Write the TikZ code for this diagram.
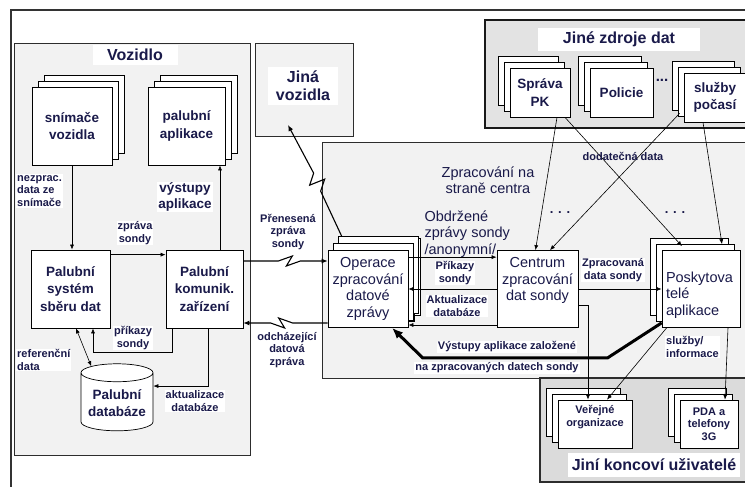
\documentclass[tikz,border=0pt]{standalone}
\usepackage{fontspec}
\setmainfont{Liberation Sans}
\usepackage{tikz}
\usetikzlibrary{positioning}
\usetikzlibrary{shapes,arrows,calc,arrows.meta,shadows}
\definecolor{ink}{HTML}{1A1A4A}

\tikzset{
  area/.style={draw=gray!35!black, line width=1pt, fill=gray!10},
  box/.style={draw, fill=white, line width=0.7pt, align=center, text=ink, inner sep=1pt},
  stack/.style={box, double copy shadow={shadow xshift=6pt, shadow yshift=6pt}},
  stackl/.style={box, double copy shadow={shadow xshift=-6pt, shadow yshift=6pt}},
  bold/.style={font=\fontsize{13.5}{17.5}\selectfont\bfseries},
  reg/.style={font=\fontsize{14.5}{16.5}\selectfont},
  title/.style={fill=white, text=ink, align=center, inner sep=2pt, font=\fontsize{16}{18}\selectfont\bfseries},
  lbl/.style={fill=white, text=ink, align=center, inner sep=1pt, font=\fontsize{11}{12.5}\selectfont\bfseries},
  arr/.style={-{Latex[length=5pt,width=4pt]}, line width=0.6pt},
  arr2/.style={{Latex[length=5pt,width=4pt]}-{Latex[length=5pt,width=4pt]}, line width=0.6pt},
  zap/.style={-{Latex[length=6pt,width=5pt]}, line width=1.1pt},
  thickarr/.style={-{Latex[length=11pt,width=9pt]}, line width=3pt}
}

\begin{document}
\begin{tikzpicture}[x=1pt, y=-1pt]
    \useasboundingbox (0,0) rectangle (745,487);
    % Frames
    \draw [line width=1.2pt, gray!40!black] (750,10) -- (11,10) -- (11,490);
    \node [area, minimum width=236pt, minimum height=411pt] (vozidlo) at (132,249.5) {};
    \node [area, minimum width=98pt, minimum height=92pt] (jina) at (304,90) {};
    \node [area, minimum width=428pt, minimum height=236pt] (strana) at (536,260) {};
    \node [area, fill=gray!22, draw=gray!20!black, line width=1.6pt, minimum width=265pt, minimum height=108pt] (zdroje) at (617.5,74) {};
    \node [area, fill=gray!28, line width=1.5pt, minimum width=210pt, minimum height=104pt] (koncovi) at (645,430) {};

    % Nodes
    \node [stack, bold, minimum width=80pt, minimum height=78pt] (snimace) at (72,126) {snímače\\vozidla};
    \node [stack, bold, minimum width=77pt, minimum height=78pt] (aplikace) at (186.5,126) {palubní\\aplikace};
    \node [box, bold, minimum width=79pt, minimum height=78pt] (sber) at (70.5,289) {Palubní\\systém\\sběru dat};
    \node [box, bold, minimum width=77pt, minimum height=78pt] (komunik) at (204.5,289) {Palubní\\komunik.\\zařízení};
    \node [box, bold, cylinder, shape border rotate=90, aspect=0.3, minimum width=72pt, minimum height=67pt] (databaze) at (117,403) {Palubní\\databáze};

    \node [stack, reg, minimum width=80pt, minimum height=77pt, double copy shadow={shadow xshift=5pt, shadow yshift=7pt}] (operace) at (368,289) {Operace\\zpracování\\datové\\zprávy};
    \node [box, reg, minimum width=81pt, minimum height=77pt, text depth=20pt] (centrum) at (537.5,289) {Centrum\\zpracování\\dat sondy};
    \node [stackl, reg, align=left, text width=70pt, minimum width=78pt, minimum height=77pt, text depth=24pt] (poskytovatele) at (701,289) {Poskytova\\telé\\aplikace};

    \node [stackl, bold, minimum width=60pt, minimum height=49pt] (sprava) at (540,92.5) {Správa\\PK};
    \node [stackl, bold, minimum width=63pt, minimum height=49pt] (policie) at (621.5,92.5) {Policie};
    \node [stackl, bold, minimum width=62pt, minimum height=49pt] (pocasi) at (715,97.5) {služby\\počasí};
    \node [text=ink, font=\fontsize{15}{15}\selectfont\bfseries] (tecky) at (662,80) {...};

    \node [stackl, lbl, fill=white, draw, minimum width=74pt, minimum height=48pt, text depth=16pt] (verejne) at (595,424) {Veřejné\\organizace};
    \node [stackl, lbl, fill=white, draw, minimum width=58pt, minimum height=48pt] (pda) at (709,424) {PDA a\\telefony\\3G};

    % Titles
    \node [title, minimum width=85pt, minimum height=20pt] (tvozidlo) at (135,55) {Vozidlo};
    \node [title, inner xsep=8pt, inner ysep=4pt] (tjina) at (303,86) {Jiná\\vozidla};
    \node [title, minimum width=162pt, minimum height=23pt] (tzdroje) at (619,39.5) {Jiné zdroje dat};
    \node [title, minimum width=172pt, minimum height=24pt] (tkoncovi) at (654,465) {Jiní koncoví uživatelé};
    \node [reg, text=ink, align=center] (tstrana) at (488,180) {Zpracování na\\straně centra};

    % Arrows
    \draw [arr] (snimace.south) -- (snimace.south |- sber.north);
    \node [lbl, align=left, anchor=west] (lnezprac) at (16,191) {nezprac.\\data ze\\snímače};
    \draw [arr] ([xshift=15.5pt]komunik.north) -- ([xshift=15.5pt]komunik.north |- aplikace.south);
    \node [lbl, font=\fontsize{13.5}{16}\selectfont\bfseries] (lvystupy) at (185,197) {výstupy\\aplikace};
    \draw [arr] ([yshift=-5pt]sber.north east) -- ([yshift=-5pt]sber.north east -| komunik.west);
    \node [lbl] (lzprava) at (135,233) {zpráva\\sondy};
    \draw [arr] ([xshift=-32.5pt]komunik.south) -- ++(0,24) -| ([xshift=22.5pt]sber.south);
    \node [lbl] (lprikazy) at (133,338) {příkazy\\sondy};
    \draw [arr2] ([xshift=5.5pt]sber.south) -- (databaze.125);
    \node [lbl, align=left, anchor=west] (lreferencni) at (16,360) {referenční\\data};
    \draw [arr] ([xshift=3.5pt]komunik.south) |- (databaze.25);
    \node [lbl] (laktualizace) at (195,401) {aktualizace\\databáze};

    \draw [zap] ([yshift=28pt]komunik.east) -- ++(35,0) -- ++(14,-5) -- ++(-6,10) -- ++(14,-5) -- ([yshift=28pt]operace.west);
    \node [lbl] (lprenesena) at (288,232) {Přenesená\\zpráva\\sondy};
    \draw [zap] ([yshift=-34pt]operace.west) -- ++(-35,0) -- ++(-14,-5) -- ++(6,10) -- ++(-14,-5) -- ([yshift=-34pt]komunik.east);
    \node [lbl] (lodchazejici) at (287,350) {odcházející\\datová\\zpráva};
    \draw [zap] ([shift={(14pt,14pt)}]operace.north west) -- ++(-21,-45) -- ++(4,-12) -- ++(-15,6) -- ++(4,-12) -- ([shift={(-16pt,-35pt)}]jina.center);

    \draw [arr] ([yshift=-7pt]operace.north east) -- ([yshift=-7pt]centrum.north west);
    \node [reg, text=ink, align=left, anchor=west] (lobdrzene) at (421,234) {Obdržené\\zprávy sondy\\/anonymní/};
    \draw [arr] (centrum.west) -- (operace.east);
    \node [lbl] (lprikazy2) at (455,273) {Příkazy\\sondy};
    \node [lbl] (laktualizace2) at (457,306) {Aktualizace\\databáze};
    \draw [arr] ([yshift=-36pt]centrum.west) -- ([yshift=-36pt]operace.east);

    \draw [thickarr] ([yshift=5pt]poskytovatele.south west) -- ++(-54,35) -- ++(-185,0) -- ([xshift=24pt]operace.south);
    \node [lbl] (lvystupy2) at (507,347) {Výstupy aplikace založené};
    \node [lbl] (lzpracovanych) at (497,368) {na zpracovaných datech sondy};

    \draw [arr] (centrum.east) -- (poskytovatele.west);
    \node [lbl] (lzpracovana) at (613,270) {Zpracovaná\\data sondy};
    \draw [arr] ([yshift=-16pt]centrum.east) -| ([xshift=-7pt]verejne.north);
    \draw [arr] ([xshift=5pt]poskytovatele.south west) -- ([xshift=12pt]verejne.north);
    \draw [arr] ([xshift=27pt]poskytovatele.south) -- ([xshift=16pt]pda.north);
    \node [lbl, align=left, anchor=west] (lsluzby) at (665,347) {služby/\\informace};

    \draw [arr] ([xshift=17pt]sprava.south) -- ([xshift=-2pt]centrum.north);
    \draw [arr] ([xshift=25pt]sprava.south) -- ([shift={(-19pt,4pt)}]poskytovatele.north);
    \draw [arr] ([shift={(-4pt,9pt)}]pocasi.south west) -- ([xshift=12.5pt]centrum.north);
    \draw [arr] ([xshift=-12pt]pocasi.south) -- ([shift={(21pt,6pt)}]poskytovatele.north);
    \node [lbl, fill=none] (ldodatecna) at (623,156) {dodatečná data};
    \node [text=ink, font=\fontsize{13}{13}\selectfont\bfseries] (tecky1) at (560,213) {. . .};
    \node [text=ink, font=\fontsize{13}{13}\selectfont\bfseries] (tecky2) at (675,213) {. . .};
\end{tikzpicture}
\end{document}
